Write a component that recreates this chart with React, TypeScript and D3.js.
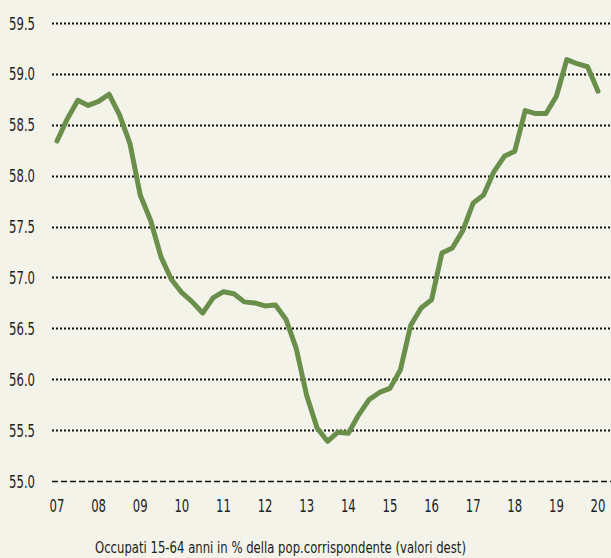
import React from "react";
import * as d3 from "d3";

const yearLabels = ["07","08","09","10","11","12","13","14","15","16","17","18","19","20"];
const yTicks = [55.0, 55.5, 56.0, 56.5, 57.0, 57.5, 58.0, 58.5, 59.0, 59.5];
// quarterly values, 2007Q1 .. 2020Q1
const values = [
  58.34, 58.56, 58.74, 58.69, 58.73, 58.80, 58.60, 58.32,
  57.81, 57.56, 57.20, 56.98, 56.85, 56.76, 56.65, 56.80,
  56.86, 56.84, 56.76, 56.75, 56.72, 56.73, 56.59, 56.30,
  55.84, 55.52, 55.39, 55.48, 55.47, 55.65, 55.80, 55.87,
  55.91, 56.09, 56.53, 56.70, 56.78, 57.24, 57.29, 57.46,
  57.73, 57.81, 58.04, 58.19, 58.24, 58.64, 58.61, 58.61,
  58.78, 59.14, 59.10, 59.07, 58.83,
];
const caption = "Occupati 15-64 anni in % della pop.corrispondente (valori dest)";

const W = 611, H = 558;
const FONT = "'DejaVu Sans Condensed', 'Liberation Sans Narrow', sans-serif";
const SX = 0.72;

export default function App() {
  const x = d3.scaleLinear().domain([0, values.length - 1]).range([57, 598]);
  const y = d3.scaleLinear().domain([55, 59.5]).range([481, 23]);
  const line = d3.line<number>().x((_, i) => x(i)).y((d) => y(d)).curve(d3.curveLinear);

  return (
    <div style={{ position: "fixed", left: 0, top: 0 }}>
      <svg width={W} height={H} style={{ display: "block", background: "#f4f3ea" }}>
        <rect x={0} y={0} width={W} height={H} fill="#f4f3ea" />
        {yTicks.map((t) => (
          <g key={t}>
            <line
              x1={52}
              x2={W}
              y1={Math.round(y(t)) + 0.5}
              y2={Math.round(y(t)) + 0.5}
              stroke="#111"
              strokeWidth={t === 55 ? 1.6 : 2}
              strokeDasharray={t === 55 ? "6 3" : "2 2"}
            />
            <text
              transform={`translate(35,${y(t) + 6.5}) scale(${SX},1)`}
              textAnchor="end"
              fontFamily={FONT}
              fontSize={18}
              fill="#222"
            >
              {t.toFixed(1)}
            </text>
          </g>
        ))}
        {yearLabels.map((lab, k) => (
          <text
            key={lab}
            transform={`translate(${x(k * 4)},512) scale(${SX},1)`}
            textAnchor="middle"
            fontFamily={FONT}
            fontSize={18}
            fill="#222"
          >
            {lab}
          </text>
        ))}
        <path
          d={line(values) || ""}
          fill="none"
          stroke="#6a8f4b"
          strokeWidth={5}
          strokeLinejoin="round"
          strokeLinecap="round"
        />
        <text
          x={95}
          y={553}
          fontFamily={FONT}
          fontSize={15.5}
          fill="#222"
          textLength={371}
          lengthAdjust="spacingAndGlyphs"
        >
          {caption}
        </text>
      </svg>
    </div>
  );
}
